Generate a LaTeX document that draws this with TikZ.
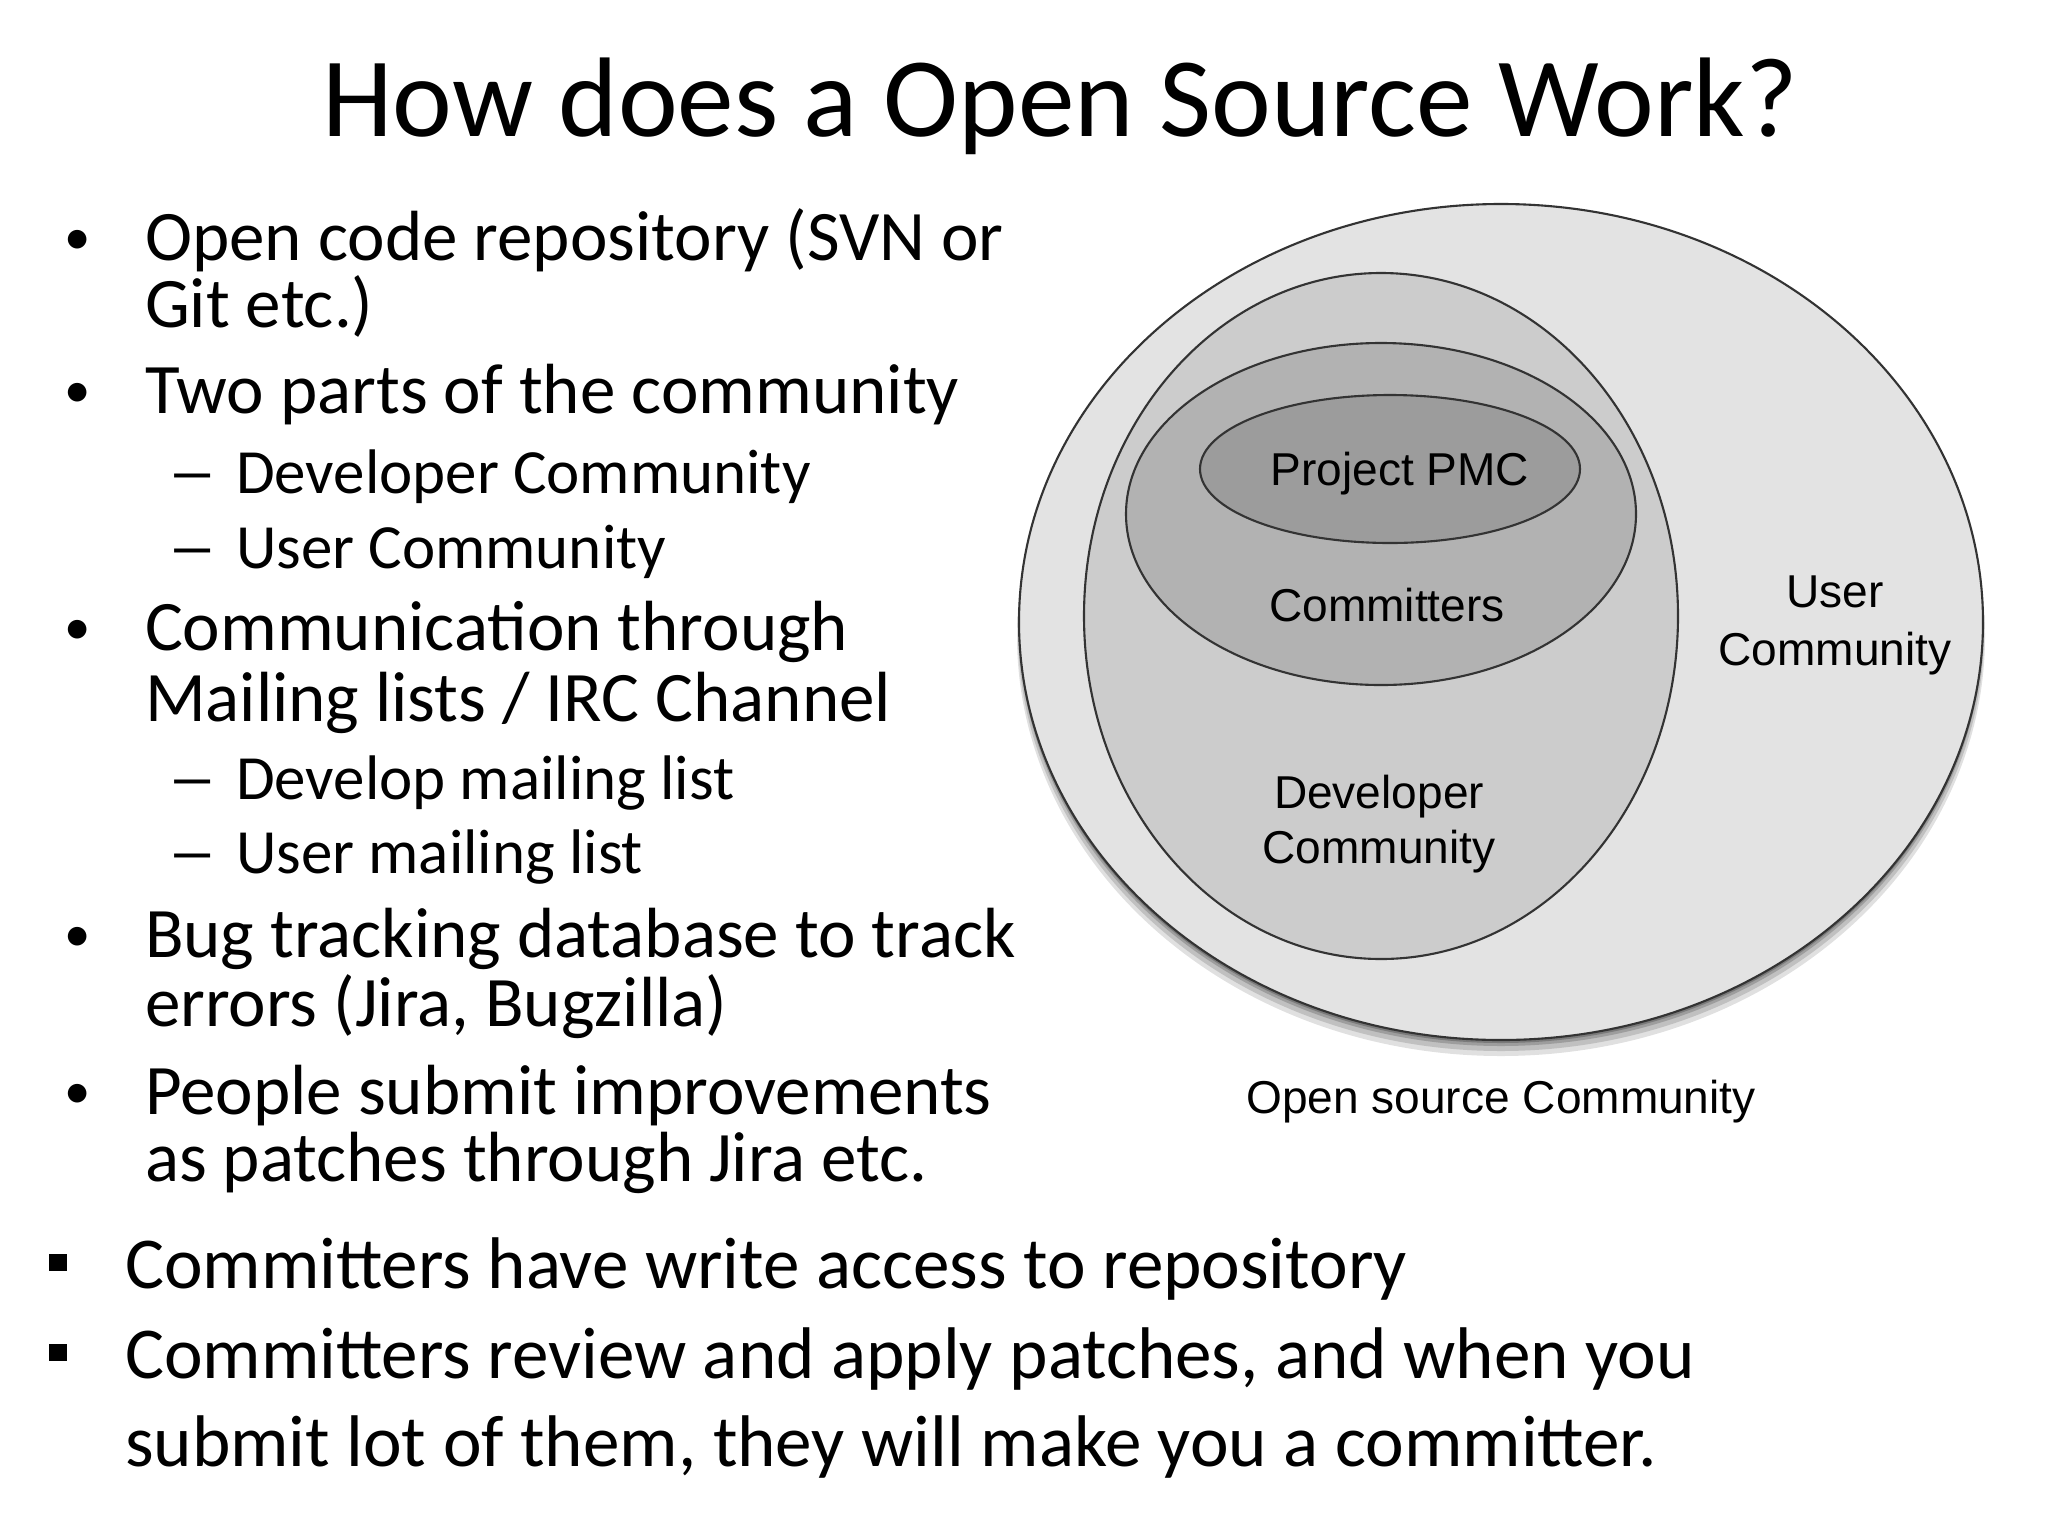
\documentclass[tikz,border=0pt]{standalone}
\usepackage{fontspec}
\setmainfont{Carlito}
\newfontfamily\vennfont{Liberation Sans}
\newcommand{\shadeuser}{black!11}
\newcommand{\shadedev}{black!20}
\newcommand{\shadecom}{black!30}
\newcommand{\shadepmc}{black!39}
\newcommand{\subdash}{\scalebox{1.6}[1]{–}}
\tikzset{every path/.style={line width=.6pt}}
\tikzset{
  lvlone/.style={anchor=base west, inner sep=0pt, font=\fontsize{20.2}{24}\selectfont},
  lvltwo/.style={anchor=base west, inner sep=0pt, font=\fontsize{17.9}{21}\selectfont},
  lvllast/.style={anchor=base west, inner sep=0pt, font=\fontsize{20.8}{25}\selectfont},
  bulletmark/.style={anchor=base, inner sep=0pt, font=\fontsize{15}{18}\selectfont},
  sqmark/.style={fill=black, inner sep=0pt, minimum size=1.7mm},
  vennlbl/.style={anchor=base, inner sep=0pt, font=\vennfont\fontsize{13.1}{15}\selectfont},
}

\begin{document}
\begin{tikzpicture}[x=0.01cm,y=-0.01cm]
\useasboundingbox[fill=white] (0,0) rectangle (2048,1536);

\node[anchor=base, inner sep=0pt, font=\fontsize{32.2}{38}\selectfont] (title) at (1060,136) {How does a Open Source Work?};

%bullets
\node[bulletmark] (b1) at (78,254) {•};
\node[lvlone] (repo1) at (144,260) {Open code repository (SVN or};
\node[lvlone] (repo2) at (144,327) {Git etc.)};
\node[bulletmark] (b2) at (78,407) {•};
\node[lvlone] (parts) at (144,413) {Two parts of the community};
\node[lvltwo] (d1) at (166,493) {\subdash};
\node[lvltwo] (devcom) at (235,493) {Developer Community};
\node[lvltwo] (d2) at (166,568) {\subdash};
\node[lvltwo] (usercom) at (235,568) {User Community};
\node[bulletmark] (b3) at (78,644) {•};
\node[lvlone] (comm1) at (144,650) {Communication through};
\node[lvlone] (comm2) at (144,721) {Mailing lists / IRC Channel};
\node[lvltwo] (d3) at (166,799) {\subdash};
\node[lvltwo] (devlist) at (235,799) {Develop mailing list};
\node[lvltwo] (d4) at (166,873) {\subdash};
\node[lvltwo] (userlist) at (235,873) {User mailing list};
\node[bulletmark] (b4) at (78,951) {•};
\node[lvlone] (bug1) at (144,957) {Bug tracking database to track};
\node[lvlone] (bug2) at (144,1026) {errors (Jira, Bugzilla)};
\node[bulletmark] (b5) at (78,1108) {•};
\node[lvlone] (patch1) at (144,1114) {People submit improvements};
\node[lvlone] (patch2) at (144,1181) {as patches through Jira etc.};

%committers
\node[sqmark] (sq1) at (58,1262) {};
\node[lvllast] (write) at (124,1288) {Committers have write access to repository};
\node[sqmark] (sq2) at (58,1352) {};
\node[lvllast] (review1) at (124,1378) {Committers review and apply patches, and when you};
\node[lvllast] (review2) at (124,1466) {submit lot of them, they will make you a committer.};

%shadow
\fill[black, opacity=.12] (1501,636) ellipse[x radius=484, y radius=420];
\fill[black, opacity=.14] (1501,632) ellipse[x radius=483, y radius=419];
\fill[black, opacity=.18] (1501,628) ellipse[x radius=482, y radius=418];
\fill[black, opacity=.22] (1501,625) ellipse[x radius=482, y radius=418];

%circles
\draw[black!80, fill=\shadeuser] (1501,622) ellipse[x radius=482, y radius=418];
\draw[black!80, fill=\shadedev] (1381,616) ellipse[x radius=297, y radius=343];
\draw[black!80, fill=\shadecom] (1381,514) ellipse[x radius=255, y radius=171];
\draw[black!80, fill=\shadepmc] (1390,469) ellipse[x radius=190, y radius=74];

\node[vennlbl] (pmc) at (1400,485) {Project PMC};
\node[vennlbl] (committers) at (1387,621) {Committers};
\node[vennlbl] (developer) at (1379,808) {Developer};
\node[vennlbl] (developer2) at (1379,863) {Community};
\node[vennlbl] (user) at (1835,607) {User};
\node[vennlbl] (user2) at (1835,665) {Community};
\node[vennlbl] (opensource) at (1501,1113) {Open source Community};
\end{tikzpicture}
\end{document}
